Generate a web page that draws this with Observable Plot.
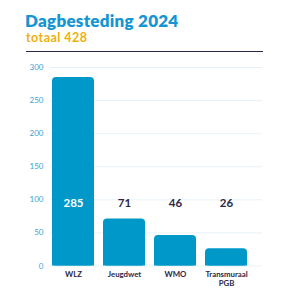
<!DOCTYPE html>
<html>
<head>
<meta charset="utf-8">
<script src="https://cdn.jsdelivr.net/npm/d3@7"></script>
<script src="https://cdn.jsdelivr.net/npm/@observablehq/plot@0.6"></script>
<style>
  body { margin: 0; background: #fff; }
  #wrap { position: relative; width: 295px; height: 295px; overflow: hidden; font-family: Lato, sans-serif; }
  .title { position: absolute; left: 25px; top: 12px; font-size: 17px; line-height: 17px; font-weight: 800; color: #1596d2; white-space: nowrap; letter-spacing: 0.25px; }
  .subtitle { position: absolute; left: 26px; top: 32px; font-size: 12.5px; line-height: 12.5px; font-weight: 700; color: #eeb10c; white-space: nowrap; letter-spacing: 0.45px; }
  .rule { position: absolute; left: 26px; top: 50.5px; width: 237px; height: 1.6px; background: #2b2847; }
  #chart { position: absolute; left: 0; top: 55px; }
</style>
</head>
<body>
<div id="wrap">
  <div class="title">Dagbesteding 2024</div>
  <div class="subtitle">totaal 428</div>
  <div class="rule"></div>
  <div id="chart"></div>
</div>
<script>
// Categories and counts for 2024
const categories = ["WLZ", "Jeugdwet", "WMO", "Transmuraal PGB"];
const counts = [285, 71, 46, 26];
const yTicks = [0, 50, 100, 150, 200, 250, 300];

const data = categories.map((name, i) => ({name, value: counts[i]}));

const barColor = "#0097c9";
const ink = "#2b2847";
const labelLevel = 95; // height at which all value labels sit

const chart = Plot.plot({
  width: 295,
  height: 240,
  marginTop: 12,
  marginBottom: 29.5,
  marginLeft: 50,
  marginRight: 33,
  style: {fontFamily: "Lato, sans-serif", background: "transparent"},
  x: {domain: categories, range: [50.7, 248.3], paddingInner: 0.18, paddingOuter: 0, align: 0.5},
  y: {domain: [0, 300]},
  marks: [
    Plot.gridY(yTicks, {stroke: "#e6f2f9", strokeOpacity: 1, strokeWidth: 1}),
    // rounded top
    Plot.barY(data, {x: "name", y: "value", fill: barColor, rx: 4}),
    // square bottom corners
    Plot.barY(data, {x: "name", y1: 0, y2: d => d.value / 2, fill: barColor}),
    Plot.axisY(yTicks, {tickSize: 0, tickPadding: 7, fontSize: 8, fill: "#3a9fd5", label: null}),
    Plot.axisX({tickSize: 0, tickPadding: 4, fontSize: 7.8, fontWeight: 700, fill: ink, label: null,
      lineHeight: 1.2, tickFormat: d => d.replace(" ", "\n")}),
    Plot.text(data, {
      x: "name",
      y: () => labelLevel,
      text: d => String(d.value),
      fontSize: 11.5,
      fontWeight: 700,
      fill: d => d.value > labelLevel ? "#ffffff" : ink
    })
  ]
});
document.getElementById("chart").appendChild(chart);
</script>
</body>
</html>
